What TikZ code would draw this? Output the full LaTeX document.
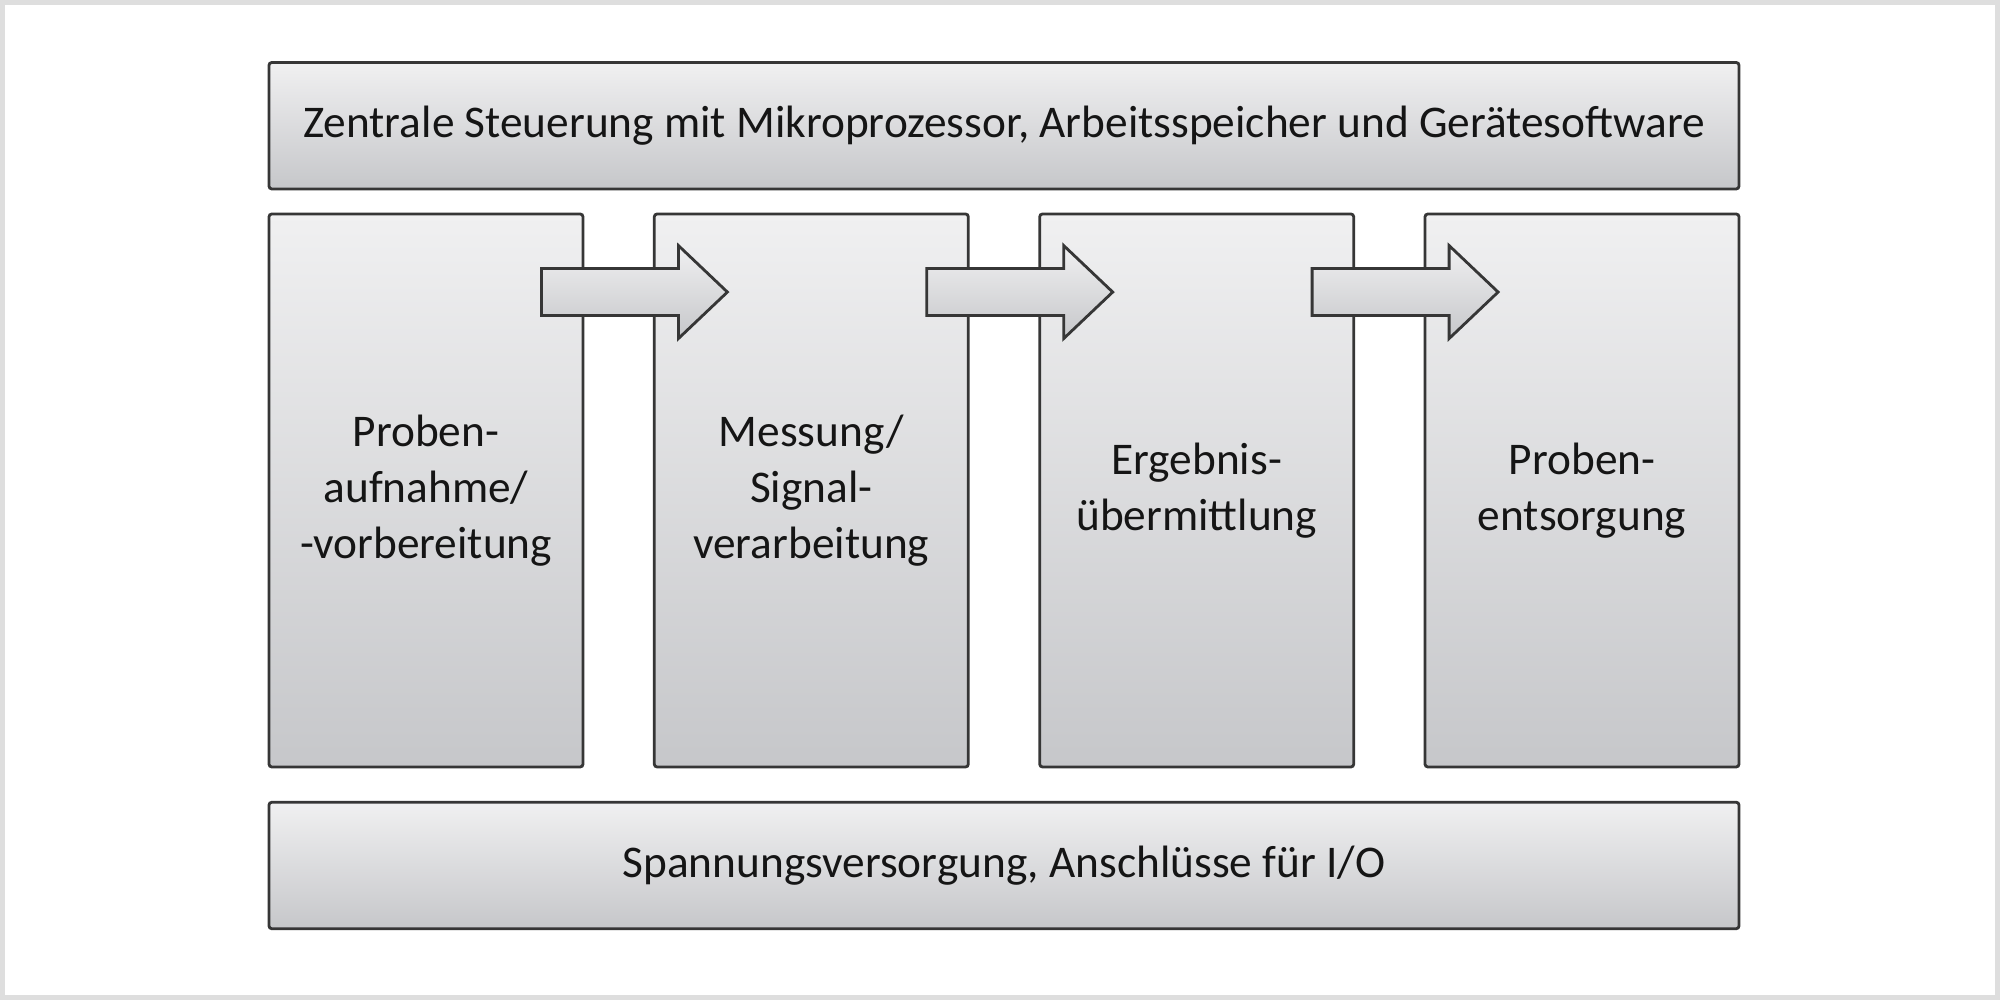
\documentclass[tikz,border=0pt]{standalone}
\usepackage{fontspec}
\setmainfont{Carlito}
\usetikzlibrary{calc}

\definecolor{framegray}{HTML}{DEDEDE}
\definecolor{boxtop}{HTML}{F0F0F1}
\definecolor{boxbottom}{HTML}{C6C7CA}
\definecolor{edgegray}{HTML}{363636}
\definecolor{textdark}{HTML}{151515}

\begin{document}
\begin{tikzpicture}
          [bar/.style={rectangle,draw=edgegray,line width=0.8pt,rounded corners=0.8pt,
                       top color=boxtop,bottom color=boxbottom,
                       minimum width=14.70cm,minimum height=1.265cm,
                       text=textdark,font=\fontsize{12.9}{16}\selectfont},
          stage/.style={rectangle,draw=edgegray,line width=0.8pt,rounded corners=0.8pt,
                       top color=boxtop,bottom color=boxbottom,
                       minimum width=3.14cm,minimum height=5.53cm,align=center,
                       text=textdark,font=\fontsize{12.9}{16}\selectfont},
          blockarrow/.style={draw=edgegray,line width=0.8pt,line join=miter,
                       top color=boxtop,bottom color=boxbottom}]
          \useasboundingbox (0,0) rectangle (20,10);
          \fill [framegray] (0,0) rectangle (20,10);
          \fill [white] (0.05,0.05) rectangle (19.95,9.95);
          \node[bar]   (control) at (10.04,8.7425) {Zentrale Steuerung mit Mikroprozessor, Arbeitsspeicher und Gerätesoftware};
          \node[stage] (intake)  at (4.26,5.095)   {Proben-\\aufnahme/\\-vorbereitung};
          \node[stage] (measure) at (8.113,5.095)  {Messung/\\Signal-\\verarbeitung};
          \node[stage] (result)  at (11.967,5.095) {Ergebnis-\\übermittlung};
          \node[stage] (dispose) at (15.82,5.095)  {Proben-\\entsorgung};
          \node[bar]   (power)   at (10.04,1.345)  {Spannungsversorgung, Anschlüsse für I/O};
          % block arrows between the stages
          \draw[blockarrow] ([xshift=-0.43cm,yshift=-0.56cm]intake.north east)
                -- ++(1.37,0) -- ++(0,0.23) -- ++(0.49,-0.465) -- ++(-0.49,-0.465)
                -- ++(0,0.23) -- ++(-1.37,0) -- cycle;
          \draw[blockarrow] ([xshift=-0.43cm,yshift=-0.56cm]measure.north east)
                -- ++(1.37,0) -- ++(0,0.23) -- ++(0.49,-0.465) -- ++(-0.49,-0.465)
                -- ++(0,0.23) -- ++(-1.37,0) -- cycle;
          \draw[blockarrow] ([xshift=-0.43cm,yshift=-0.56cm]result.north east)
                -- ++(1.37,0) -- ++(0,0.23) -- ++(0.49,-0.465) -- ++(-0.49,-0.465)
                -- ++(0,0.23) -- ++(-1.37,0) -- cycle;
        \end{tikzpicture}
\end{document}
